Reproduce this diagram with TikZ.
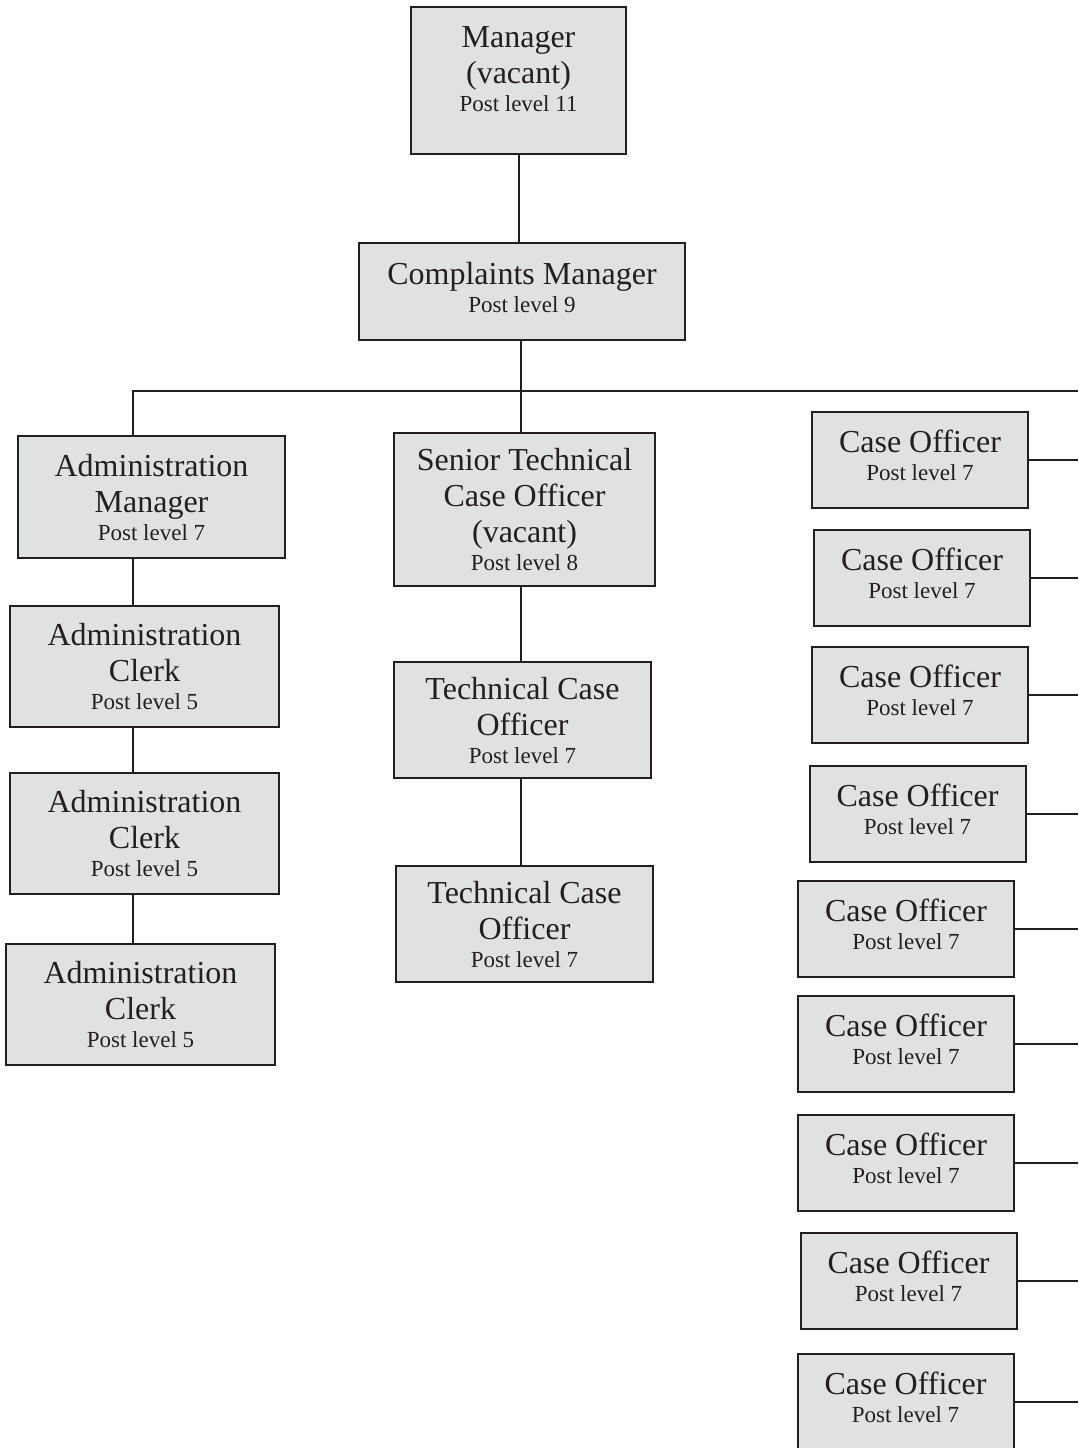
\documentclass[tikz,border=0pt]{standalone}
\usepackage{fontspec}
\setmainfont{Liberation Serif}
\definecolor{boxgray}{RGB}{224,225,227}
\definecolor{inkgray}{RGB}{35,31,32}
\newcommand{\lvl}[1]{\\[-4pt]{\fontsize{11.5}{13}\selectfont Post level #1}}
\begin{document}
\begin{tikzpicture}[x=0.5pt, y=-0.5pt,
  post/.style={draw=inkgray, fill=boxgray, line width=1pt, align=center, inner sep=0pt,
    font=\fontsize{16}{18}\selectfont, text=inkgray},
  co/.style={post, minimum width=108pt, minimum height=48pt},
  link/.style={draw=inkgray, line width=1pt}]
\useasboundingbox (0,0) rectangle (1078,1448);
% top of the chart
\node [post, minimum width=107.5pt, minimum height=73.5pt] (mgr) at (518.5,80.5)
  {Manager\\(vacant)\lvl{11}\rule[-11pt]{0pt}{11pt}};
\node [post, minimum width=163pt, minimum height=48.5pt] (cm) at (522,291.5)
  {Complaints Manager\lvl{9}\rule[-4pt]{0pt}{4pt}};
\coordinate (lft) at (133,391);
\coordinate (mid) at (521,391);
\coordinate (rgt) at (1078,391);
% administration
\node [post, minimum width=133.5pt, minimum height=61pt] (adm) at (151.5,497)
  {Administration\\Manager\lvl{7}};
\node [post, minimum width=134.5pt, minimum height=60.5pt] (clk1) at (144.5,666.5)
  {Administration\\Clerk\lvl{5}};
\node [post, minimum width=134.5pt, minimum height=60.5pt] (clk2) at (144.5,833.5)
  {Administration\\Clerk\lvl{5}};
\node [post, minimum width=134.5pt, minimum height=60.5pt] (clk3) at (140.5,1004.5)
  {Administration\\Clerk\lvl{5}};
% technical
\node [post, minimum width=130.5pt, minimum height=76.5pt] (stco) at (524.5,509.5)
  {Senior Technical\\Case Officer\\(vacant)\lvl{8}};
\node [post, minimum width=128.5pt, minimum height=58pt] (tco1) at (522.5,720)
  {Technical Case\\Officer\lvl{7}};
\node [post, minimum width=128.5pt, minimum height=58pt] (tco2) at (524.5,924)
  {Technical Case\\Officer\lvl{7}};
% case officers
\foreach \i/\x/\y in {a/920/460, b/922/578, c/920/695, d/917.5/814, e/906/929,
                      f/906/1044, g/906/1163, h/908.5/1281, i/905.5/1402} {
  \node [co] (co\i) at (\x,\y) {Case Officer\lvl{7}\rule[-5pt]{0pt}{5pt}};
  \draw [link] (co\i.east) -- (co\i.east -| rgt);
}
% connectors
\draw [link] (mgr.south) -- (mgr.south |- cm.north);
\draw [link] (cm.south -| mid) -- (stco.north -| mid);
\draw [link] (adm.north -| lft) -- (lft) -- (rgt);
\draw [link] (adm.south -| lft) -- (clk1.north -| lft);
\draw [link] (clk1.south -| lft) -- (clk2.north -| lft);
\draw [link] (clk2.south -| lft) -- (clk3.north -| lft);
\draw [link] (stco.south -| mid) -- (tco1.north -| mid);
\draw [link] (tco1.south -| mid) -- (tco2.north -| mid);
\end{tikzpicture}
\end{document}
